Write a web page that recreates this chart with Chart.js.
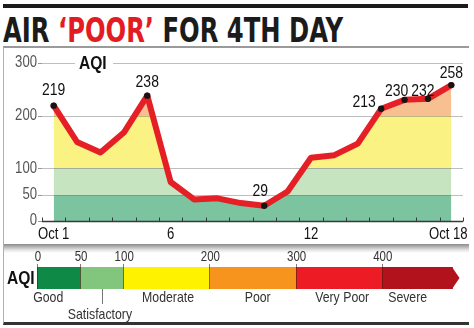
<!DOCTYPE html>
<html>
<head>
<meta charset="utf-8">
<script src="https://cdn.jsdelivr.net/npm/chart.js@4.4.0/dist/chart.umd.min.js"></script>
<style>
  body { margin: 0; background: #fff; width: 474px; height: 328px; position: relative; overflow: hidden; }
  #rule { position: absolute; left: 3px; top: 4px; width: 465px; height: 4px; background: #1b1b1b; }
  #title { position: absolute; left: 3px; top: 12px; font: bold 33px 'DejaVu Sans Condensed', sans-serif;
           color: #1b1b1b; white-space: nowrap; line-height: 38px; transform-origin: 0 0; }
  #title span { color: #e31b23; }
  #box1 { position: absolute; left: 3px; top: 46px; width: 465px; height: 198px; border-top: 2px solid #9a9a9a; border-left: 1px solid #b0b0b0; }
  #box2 { position: absolute; left: 3px; top: 244px; width: 465px; height: 78px; border-left: 1px solid #b0b0b0;
          border-bottom: 3px solid #333; background: linear-gradient(#8a8a8a, #e4e4e4 6px, #fff 9px); }
  canvas { position: absolute; left: 0; }
  #aqiChart { top: 47px; }
  #scaleChart { top: 246px; }
</style>
</head>
<body>
<div id="rule"></div>
<div id="title">AIR <span>‘POOR’</span> FOR 4TH DAY</div>
<div id="box1"></div>
<div id="box2"></div>
<canvas id="aqiChart" width="474" height="199"></canvas>
<canvas id="scaleChart" width="474" height="79"></canvas>
<script>
// daily AQI, Oct 1 - Oct 18
var days = [1, 2, 3, 4, 5, 6, 7, 8, 9, 10, 11, 12, 13, 14, 15, 16, 17, 18];
var aqi = [219, 150, 130, 168, 238, 74, 41, 43, 34, 29, 56, 120, 125, 147, 213, 230, 232, 258];
var labelledDays = [1, 5, 10, 15, 16, 17, 18];
var yTicks = [0, 50, 100, 200, 300];
var xTickDays = [1, 6, 12, 18];
var xTickLabels = ["Oct 1", "6", "12", "Oct 18"];
var bandTops = [50, 100, 200, 300];

// AQI scale strip
var scaleBounds = [0, 50, 100, 200, 300, 400];
var scaleNames = ["Good", "Satisfactory", "Moderate", "Poor", "Very Poor", "Severe"];

var FONT = "'Liberation Sans', Arimo, sans-serif";
var bandColors = ["#7cc4a0", "#c6e4c0", "#fbf284", "#f8bf90"];
var scaleColors = ["#0f8a46", "#82c67e", "#fff200", "#f7941e", "#ed1c24", "#b1121c"];
var labelShift = [[0, -15], [0, -13], [-4, -14], [-17, -7], [-8, -9], [-5, -8], [0, -12]];
var nameAt = [13, 73, 152, 256, 354, 430];
var arrowEnd = 482;

var t = document.getElementById("title");
t.style.transform = "scaleX(" + (340 / t.offsetWidth) + ")";

// narrow text: Liberation Sans squeezed horizontally
function txt(ctx, s, x, y, size, color, align, bold) {
  ctx.save();
  ctx.font = (bold ? "bold " : "") + size + "px " + FONT;
  ctx.translate(x, y);
  ctx.scale(0.82, 1);
  ctx.textAlign = align || "center";
  ctx.textBaseline = "middle";
  ctx.fillStyle = color;
  ctx.fillText(s, 0, 0);
  ctx.restore();
}

var points = days.map(function (d, i) { return {x: d, y: aqi[i]}; });

function bandFill(context) {
  var chart = context.chart;
  if (!chart.chartArea) return null;
  var y = chart.scales.y;
  var g = chart.ctx.createLinearGradient(0, y.getPixelForValue(0), 0, y.getPixelForValue(300));
  var lo = 0;
  bandTops.forEach(function (hi, i) {
    g.addColorStop(lo / 300, bandColors[i]);
    g.addColorStop(hi / 300, bandColors[i]);
    lo = hi;
  });
  return g;
}

var aqiDecor = {
  id: "aqiDecor",
  beforeDatasetDraw: function (chart, args) {
    if (args.index !== 1) return;
    var ctx = chart.ctx, a = chart.chartArea, y = chart.scales.y;
    ctx.save();
    ctx.lineWidth = 1;
    yTicks.forEach(function (v) {
      var py = Math.round(y.getPixelForValue(v)) + 0.5;
      ctx.strokeStyle = "#999";
      ctx.beginPath(); ctx.moveTo(a.left - 4, py); ctx.lineTo(a.left, py); ctx.stroke();
      if (v === 0) return;
      ctx.strokeStyle = "rgba(110,110,110,0.45)";
      ctx.beginPath(); ctx.moveTo(a.left, py); ctx.lineTo(a.right, py); ctx.stroke();
    });
    ctx.restore();
  },
  afterDatasetsDraw: function (chart) {
    var ctx = chart.ctx, a = chart.chartArea, x = chart.scales.x, y = chart.scales.y;
    ctx.save();
    var py = Math.round(y.getPixelForValue(0)) + 0.5;
    ctx.strokeStyle = "#3a3a3a";
    ctx.lineWidth = 1.5;
    ctx.beginPath(); ctx.moveTo(a.left, py); ctx.lineTo(a.right, py); ctx.stroke();
    ctx.lineWidth = 1;
    for (var d = 0.5; d <= 18.5; d++) {
      var px = Math.round(x.getPixelForValue(d)) + 0.5;
      ctx.beginPath(); ctx.moveTo(px, py); ctx.lineTo(px, py - 4); ctx.stroke();
    }
    ctx.restore();
    // tick labels
    yTicks.forEach(function (v) {
      txt(ctx, String(v), a.left - 5, y.getPixelForValue(v), 16, "#555", "right");
    });
    xTickDays.forEach(function (d, i) {
      txt(ctx, xTickLabels[i], x.getPixelForValue(d) - (d === 18 ? 3 : 0), a.bottom + 14, 16, "#111");
    });
    // value labels
    labelledDays.forEach(function (d, k) {
      var v = aqi[days.indexOf(d)];
      txt(ctx, String(v), x.getPixelForValue(d) + labelShift[k][0], y.getPixelForValue(v) + labelShift[k][1], 17, "#111");
    });
  },
  afterDraw: function (chart) {
    var ctx = chart.ctx, y = chart.scales.y;
    var py = y.getPixelForValue(300);
    ctx.save();
    ctx.fillStyle = "#fff";
    ctx.fillRect(75, py - 8, 38, 16);
    ctx.restore();
    txt(ctx, "AQI", 79, py + 1, 19, "#111", "left", true);
  }
};

new Chart("aqiChart", {
  type: "line",
  data: {
    datasets: [{
      data: points,
      fill: "origin",
      backgroundColor: bandFill,
      borderColor: "rgba(0,0,0,0)",
      borderWidth: 0,
      pointRadius: 0,
      order: 2
    }, {
      data: points,
      fill: false,
      borderColor: "#e41f26",
      borderWidth: 6,
      borderJoinStyle: "round",
      borderCapStyle: "round",
      tension: 0,
      pointRadius: days.map(function (d) { return labelledDays.indexOf(d) >= 0 ? 3.2 : 0; }),
      pointBackgroundColor: "#151515",
      pointBorderWidth: 0,
      order: 1
    }]
  },
  options: {
    responsive: false,
    animation: false,
    layout: {padding: {left: 42, right: 11, top: 16, bottom: 25}},
    scales: {
      x: {type: "linear", min: 0.5, max: 18.5, display: false},
      y: {min: 0, max: 300, display: false}
    },
    plugins: {legend: {display: false}, tooltip: {enabled: false}}
  },
  plugins: [aqiDecor]
});

var scaleDecor = {
  id: "scaleDecor",
  afterDatasetsDraw: function (chart) {
    var ctx = chart.ctx, a = chart.chartArea, x = chart.scales.x;
    ctx.save();
    // arrow head
    var ax = x.getPixelForValue(arrowEnd);
    ctx.fillStyle = scaleColors[5];
    ctx.beginPath();
    ctx.moveTo(ax - 0.5, a.top);
    ctx.lineTo(ax + 7, (a.top + a.bottom) / 2);
    ctx.lineTo(ax - 0.5, a.bottom);
    ctx.closePath();
    ctx.fill();
    // dividers
    ctx.strokeStyle = "rgba(70,30,20,0.6)";
    ctx.lineWidth = 1;
    scaleBounds.forEach(function (b) {
      var px = Math.round(x.getPixelForValue(b)) + 0.5;
      ctx.beginPath(); ctx.moveTo(px, a.top - 3); ctx.lineTo(px, a.bottom); ctx.stroke();
    });
    ctx.strokeStyle = "#777";
    var cx = Math.round(x.getPixelForValue(75)) + 0.5;
    ctx.beginPath(); ctx.moveTo(cx, a.bottom); ctx.lineTo(cx, a.bottom + 15); ctx.stroke();
    ctx.restore();
    // numbers
    scaleBounds.forEach(function (b) {
      txt(ctx, String(b), x.getPixelForValue(b) + 1, a.top - 10, 14, "#333");
    });
    // names
    scaleNames.forEach(function (n, i) {
      var py = i === 1 ? a.bottom + 26 : a.bottom + 9;
      txt(ctx, n, x.getPixelForValue(nameAt[i]), py, 15, "#333");
    });
    // strip title
    txt(ctx, "AQI", 7, (a.top + a.bottom) / 2 + 1, 19, "#111", "left", true);
  }
};

new Chart("scaleChart", {
  type: "bar",
  data: {
    labels: ["AQI"],
    datasets: scaleNames.map(function (name, i) {
      var hi = i < scaleBounds.length - 1 ? scaleBounds[i + 1] : arrowEnd;
      return {
        label: name,
        data: [[scaleBounds[i], hi]],
        backgroundColor: scaleColors[i],
        borderWidth: 0,
        grouped: false,
        barPercentage: 1,
        categoryPercentage: 1
      };
    })
  },
  options: {
    indexAxis: "y",
    responsive: false,
    animation: false,
    layout: {padding: {left: 37, right: 6, top: 21, bottom: 36}},
    scales: {
      x: {type: "linear", min: 0, max: 500, display: false},
      y: {display: false}
    },
    plugins: {legend: {display: false}, tooltip: {enabled: false}}
  },
  plugins: [scaleDecor]
});
</script>
</body>
</html>
